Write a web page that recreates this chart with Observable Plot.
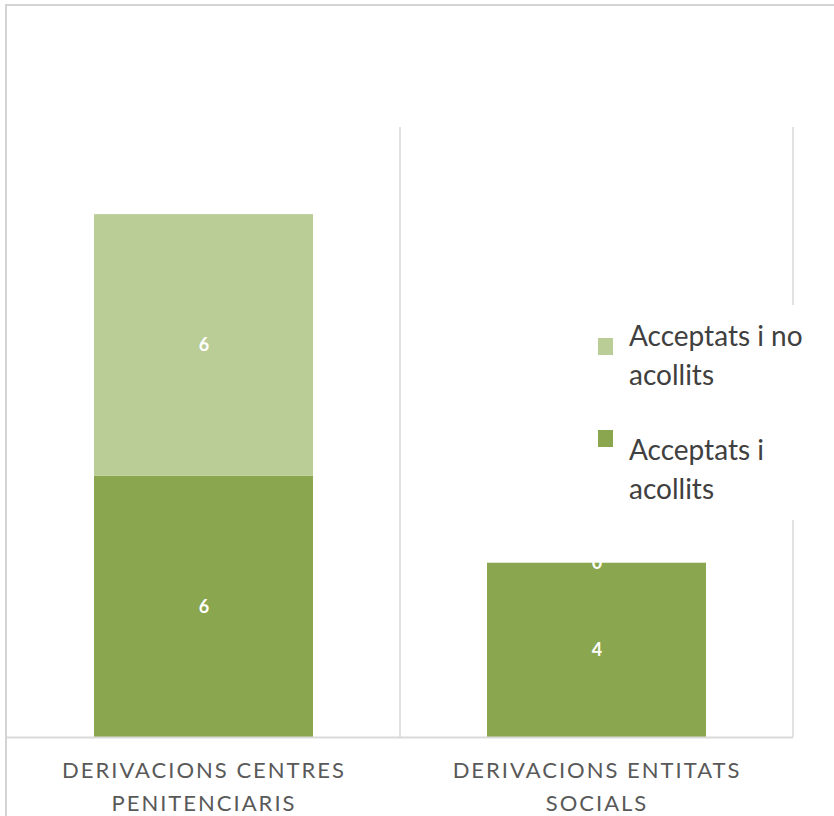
<!DOCTYPE html>
<html>
<head>
<meta charset="utf-8">
<script src="https://cdn.jsdelivr.net/npm/d3@7"></script>
<script src="https://cdn.jsdelivr.net/npm/@observablehq/plot@0.6"></script>
<style>
  body { margin: 0; background: #fff; }
  #wrap { position: relative; width: 834px; height: 816px; overflow: hidden; background: #fff; font-family: Lato, "Open Sans", sans-serif; }
  #frame { position: absolute; left: 5px; top: 4px; width: 900px; height: 900px; border-top: 2px solid #d4d4d4; border-left: 2px solid #d4d4d4; }
  #chart { position: absolute; left: 0; top: 0; }
  #chart g[aria-label="x-axis tick label"] text { letter-spacing: 2px; }
  #legend { position: absolute; left: 585px; top: 305px; width: 249px; height: 215px; background: #fff; }
  .sw { position: absolute; width: 15px; height: 17px; }
  .lt { position: absolute; font-size: 28px; line-height: 39px; color: #404040; white-space: nowrap; }
</style>
</head>
<body>
<div id="wrap">
  <div id="frame"></div>
  <div id="chart"></div>
  <div id="legend"></div>
</div>
<script>
const categories = ["DERIVACIONS CENTRES PENITENCIARIS", "DERIVACIONS ENTITATS SOCIALS"];
const categoryLabels = ["DERIVACIONS CENTRES\nPENITENCIARIS", "DERIVACIONS ENTITATS\nSOCIALS"];
const series = ["Acceptats i acollits", "Acceptats i no acollits"];
const acollits = [6, 4];
const noAcollits = [6, 0];
const colors = ["#8aa64f", "#bacd97"];
const legendLabels = ["Acceptats i no<br>acollits", "Acceptats i<br>acollits"];

const data = [];
categories.forEach((c, i) => {
  data.push({category: c, series: series[0], value: acollits[i]});
  data.push({category: c, series: series[1], value: noAcollits[i]});
});

const plot = Plot.plot({
  width: 834,
  height: 816,
  marginLeft: 7,
  marginRight: 41,
  marginTop: 127,
  marginBottom: 79,
  x: {domain: categories, paddingInner: 0.4416, paddingOuter: 0.2208, label: null},
  y: {domain: [0, 14], axis: null},
  color: {domain: series, range: colors},
  style: {fontFamily: "Lato, 'Open Sans', sans-serif", background: "transparent"},
  marks: [
    Plot.ruleX(categories, {x: d => d, y1: 0, y2: 14, dx: 196, stroke: "#d9d9d9", strokeWidth: 1.5}),
    Plot.barY(data, {x: "category", y: "value", fill: "series"}),
    Plot.ruleY([0], {stroke: "#d9d9d9", strokeWidth: 2}),
    Plot.text(data, Plot.stackY({x: "category", y: "value", text: d => String(d.value), fill: "white", fontSize: 18, fontWeight: 700})),
    Plot.axisX({tickSize: 0, tickPadding: 17, fontSize: 22, fill: "#595959", lineHeight: 1.5,
      tickFormat: d => categoryLabels[categories.indexOf(d)]})
  ]
});
document.getElementById("chart").appendChild(plot);

const legend = document.getElementById("legend");
const items = [
  {color: colors[1], label: legendLabels[0], swTop: 33, textTop: 11},
  {color: colors[0], label: legendLabels[1], swTop: 125, textTop: 125}
];
items.forEach(it => {
  const sw = document.createElement("div");
  sw.className = "sw";
  sw.style.left = "13px";
  sw.style.top = it.swTop + "px";
  sw.style.background = it.color;
  legend.appendChild(sw);
  const t = document.createElement("div");
  t.className = "lt";
  t.style.left = "44px";
  t.style.top = it.textTop + "px";
  t.innerHTML = it.label;
  legend.appendChild(t);
});
</script>
</body>
</html>
